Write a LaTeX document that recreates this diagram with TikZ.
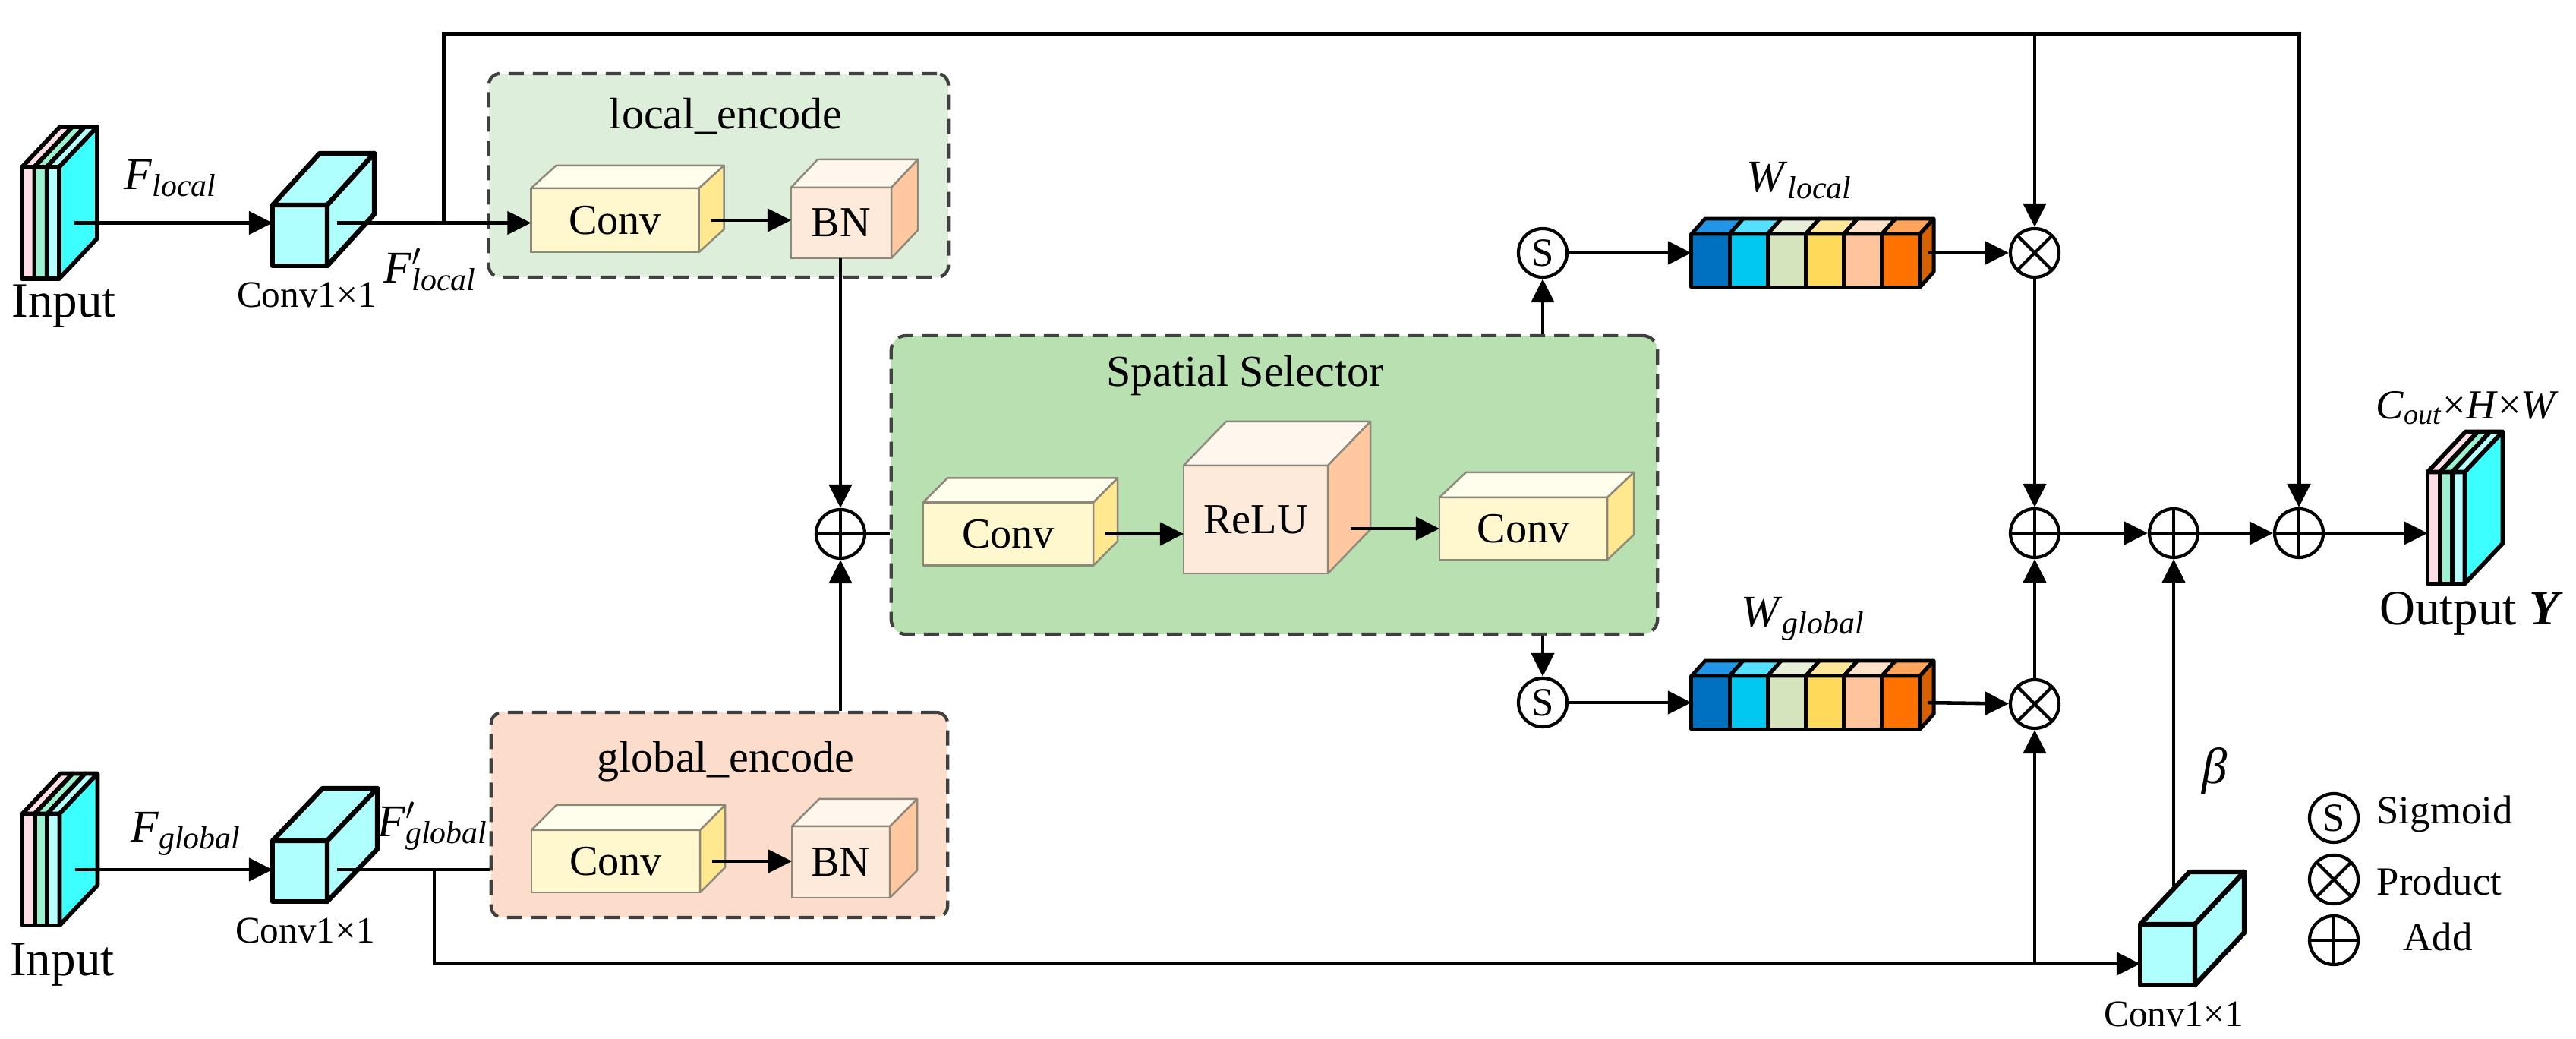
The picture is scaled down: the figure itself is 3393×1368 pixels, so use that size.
\documentclass[tikz,border=0pt]{standalone}
\usepackage{fontspec}
\setmainfont{Liberation Serif}
\usetikzlibrary{arrows.meta,calc}

\definecolor{lgreen}{HTML}{DDEEDA}
\definecolor{lpeach}{HTML}{FCDCCB}
\definecolor{sgreen}{HTML}{B8E0B1}
\definecolor{cfront}{HTML}{FFF8CE}
\definecolor{ctop}{HTML}{FFFDEC}
\definecolor{cside}{HTML}{FFE890}
\definecolor{bfront}{HTML}{FDEADB}
\definecolor{btop}{HTML}{FFF6EE}
\definecolor{bside}{HTML}{FFC8A0}
\definecolor{kcyan}{HTML}{B0FFFF}
\definecolor{mcyan}{HTML}{3CFFFF}
\definecolor{mpink}{HTML}{FFDDE5}
\definecolor{mmint}{HTML}{9AF2D0}
\definecolor{mlcyan}{HTML}{B6FFFF}
\definecolor{boxedge}{HTML}{8C887A}
\definecolor{dashgray}{HTML}{404040}
\definecolor{wa}{HTML}{0070C0}\definecolor{wat}{HTML}{2196E8}
\definecolor{wb}{HTML}{00C8F0}\definecolor{wbt}{HTML}{55E0FF}
\definecolor{wc}{HTML}{D6E4BE}\definecolor{wct}{HTML}{E6EFD9}
\definecolor{wd}{HTML}{FFD95A}\definecolor{wdt}{HTML}{FFE79A}
\definecolor{we}{HTML}{FFC49B}\definecolor{wet}{HTML}{FFE0C8}
\definecolor{wf}{HTML}{FF7200}\definecolor{wft}{HTML}{FFA45A}
\definecolor{wside}{HTML}{D46000}

\tikzset{
  line/.style={line width=1.3pt},
  arr/.style={line width=1.3pt,-{Triangle[length=0.31cm,width=0.3cm]}},
  op/.style={circle,draw,line width=1.2pt,fill=white,minimum size=0.64cm,inner sep=0},
  addop/.style={op,path picture={\draw[line width=1.2pt] (path picture bounding box.north) -- (path picture bounding box.south) (path picture bounding box.west) -- (path picture bounding box.east);}},
  mulop/.style={op,path picture={\draw[line width=1.2pt] (path picture bounding box.north west) -- (path picture bounding box.south east) (path picture bounding box.south west) -- (path picture bounding box.north east);}},
  sigop/.style={op,font=\fontsize{15}{15}\selectfont},
  encbox/.style={draw=dashgray,dash pattern=on 0.2cm off 0.12cm,line width=1.2pt,rounded corners=0.15cm,inner sep=0},
  block/.style={draw=boxedge,line width=0.7pt,inner sep=0,outer sep=0,font=\fontsize{16}{18}\selectfont},
  kbox/.style={draw,line width=1.8pt,line join=round,fill=kcyan,inner sep=0,outer sep=0,minimum width=0.72cm,minimum height=0.8cm},
  big/.style={font=\fontsize{18.5}{20}\selectfont},
  title/.style={font=\fontsize{16.5}{18}\selectfont},
  small/.style={font=\fontsize{14}{16}\selectfont},
  sym/.style={font=\fontsize{17}{19}\selectfont},
  legend/.style={font=\fontsize{15}{17}\selectfont}
}

\newcommand{\boxfaces}[6]{%
  \filldraw[line join=round,#6,fill=#4] (#1.north west) -- ($(#1.north west)+(#2,-#3)$) -- ($(#1.north east)+(#2,-#3)$) -- (#1.north east) -- cycle;
  \filldraw[line join=round,#6,fill=#5] (#1.north east) -- ($(#1.north east)+(#2,-#3)$) -- ($(#1.south east)+(#2,-#3)$) -- (#1.south east) -- cycle;
}
\newcommand{\fmap}[2]{%
  \node[minimum width=0.49cm,minimum height=1.47cm,inner sep=0,outer sep=0] (#1) at (#2) {};
  \foreach \c [count=\i from 0] in {mpink,mmint,mlcyan}{
    \draw[line width=1.6pt,line join=round,fill=\c] ($(#1.north west)+(\i*16.33,0)$) rectangle ++(16.33,147);
    \draw[line width=1.6pt,line join=round,fill=\c] ($(#1.north west)+(\i*16.33,0)$) -- ++(50,-53) -- ++(16.33,0) -- ++(-50,53) -- cycle;
    \draw[line width=1.6pt,line join=round,fill=mcyan] ($(#1.north west)+(\i*16.33+16.33,0)$) -- ++(50,-53) -- ++(0,147) -- ++(-50,53) -- cycle;
  }
}
\newcommand{\wbar}[2]{%
  \node[minimum width=3.01cm,minimum height=0.7cm,inner sep=0,outer sep=0] (#1) at (#2) {};
  \foreach \f/\t [count=\i from 0] in {wa/wat,wb/wbt,wc/wct,wd/wdt,we/wet,wf/wft}{
    \draw[line width=1.4pt,line join=round,fill=\f] ($(#1.north west)+(\i*50.17,0)$) rectangle ++(50.17,70);
    \draw[line width=1.4pt,line join=round,fill=\t] ($(#1.north west)+(\i*50.17,0)$) -- ++(18,-20) -- ++(50.17,0) -- ++(-18,20) -- cycle;
  }
  \draw[line width=1.4pt,line join=round,fill=wside] (#1.north east) -- ++(18,-20) -- ++(0,70) -- ++(-18,20) -- cycle;
}

\begin{document}
\begin{tikzpicture}[x=0.01cm,y=-0.01cm]
\useasboundingbox (0,0) rectangle (3393,1368);

% dashed groups
\node[encbox,fill=lgreen,minimum width=6.05cm,minimum height=2.68cm] (lbox) at (946.5,231) {};
\node[encbox,fill=lpeach,minimum width=6.01cm,minimum height=2.70cm] (gbox) at (947.5,1073) {};
\node[encbox,fill=sgreen,minimum width=10.09cm,minimum height=3.93cm,rounded corners=0.2cm] (sbox) at (1678.5,638.5) {};
\node[title] (lboxt) at (956,153) {local\_encode};
\node[title] (gboxt) at (956,1003) {global\_encode};
\node[title] (sboxt) at (1640,495) {Spatial Selector};

% inputs and output
\fmap{in1}{53.5,293.5}
\fmap{in2}{54,1145}
\fmap{out}{3222,695}
\node[big] (in1l) at (84,403) {Input};
\node[big] (in2l) at (82,1270) {Input};
\node[big] (outl) at (3255,808) {Output \textbf{\textit{Y}}};
\node[font=\fontsize{15.5}{17}\selectfont] (outs) at (3250,537) {\textit{C}\textsubscript{\textit{out}}×\textit{H}×\textit{W}};

% 1x1 convolutions
\node[kbox] (c1) at (395,310) {};
\boxfaces{c1}{62}{68}{kcyan}{kcyan}{line width=1.8pt}
\node[kbox] (c2) at (395,1147) {};
\boxfaces{c2}{66}{69}{kcyan}{kcyan}{line width=1.8pt}
\node[kbox] (c3) at (2855,1257) {};
\boxfaces{c3}{65}{69}{kcyan}{kcyan}{line width=1.8pt}
\node[small] (c1l) at (404,388) {Conv1×1};
\node[small] (c2l) at (402,1225) {Conv1×1};
\node[small] (c3l) at (2863,1335) {Conv1×1};

% encoders
\node[block,fill=cfront,minimum width=2.21cm,minimum height=0.84cm] (lconv) at (810,290) {Conv};
\boxfaces{lconv}{33}{30}{ctop}{cside}{draw=boxedge,line width=0.7pt}
\node[block,fill=bfront,minimum width=1.32cm,minimum height=0.93cm] (lbn) at (1108,293.5) {BN};
\boxfaces{lbn}{35}{37}{btop}{bside}{draw=boxedge,line width=0.7pt}
\node[block,fill=cfront,minimum width=2.22cm,minimum height=0.82cm] (gconv) at (811,1134) {Conv};
\boxfaces{gconv}{33}{33}{ctop}{cside}{draw=boxedge,line width=0.7pt}
\node[block,fill=bfront,minimum width=1.29cm,minimum height=0.94cm] (gbn) at (1107.5,1135) {BN};
\boxfaces{gbn}{36}{36}{btop}{bside}{draw=boxedge,line width=0.7pt}

% spatial selector
\node[block,fill=cfront,minimum width=2.24cm,minimum height=0.83cm] (sconv1) at (1328,703) {Conv};
\boxfaces{sconv1}{32}{32}{ctop}{cside}{draw=boxedge,line width=0.7pt}
\node[block,fill=bfront,minimum width=1.90cm,minimum height=1.42cm] (relu) at (1654,684) {ReLU};
\boxfaces{relu}{56}{58}{btop}{bside}{draw=boxedge,line width=0.7pt}
\node[block,fill=cfront,minimum width=2.21cm,minimum height=0.82cm] (sconv2) at (2006.5,696) {Conv};
\boxfaces{sconv2}{35}{33}{ctop}{cside}{draw=boxedge,line width=0.7pt}

% weights
\wbar{wl}{2378.5,343}
\wbar{wg}{2378.5,925}
\node[sym] (wll) at (2370,238) {\textit{W}\textsubscript{\textit{local}}};
\node[sym] (wgl) at (2375,815) {\textit{W}\textsubscript{\textit{global}}};

% operators
\node[addop] (addl) at (1107,703) {};
\node[sigop] (sig1) at (2032,333) {S};
\node[sigop] (sig2) at (2032,925) {S};
\node[mulop] (mul1) at (2680,333) {};
\node[mulop] (mul2) at (2680,927) {};
\node[addop] (adda) at (2680,702) {};
\node[addop] (addb) at (2863,702) {};
\node[addop] (addc) at (3028,702) {};

% feature labels
\node[sym] (fl) at (225,235) {\textit{F}\textsubscript{\textit{local}}};
\node[sym] (fpl) at (567,355) {\textit{F}\rlap{$'$}\textsubscript{\textit{local}}};
\node[sym] (fg) at (245,1098) {\textit{F}\textsubscript{\textit{global}}};
\node[sym] (fpg) at (570,1088) {\textit{F}\rlap{$'$}\textsubscript{\textit{global}}};
\node[font=\fontsize{19}{21}\selectfont] (beta) at (2917,1015) {\textit{β}};

% connectors
\coordinate (j1) at (585,293.5);
\coordinate (t1) at (585,45);
\coordinate (j2) at (572,1145);
\coordinate (b1) at (572,1269);
\draw[arr,shorten <=0.2cm] (in1.east) -- (in1.east -| c1.west);
\draw[arr,shorten <=0.13cm] (in1.east -| c1.east) -- (in1.east -| lconv.west);
\draw[arr,line width=1.6pt] (j1) -- (t1) -| (addc);
\draw[arr] (t1 -| mul1) -- (mul1);
\draw[arr,shorten <=0.16cm] (lconv.east) -- (lconv.east -| lbn.west);
\draw[arr] (lbn.south -| addl) -- (addl);
\draw[arr,shorten <=0.2cm] (in2.east) -- (in2.east -| c2.west);
\draw[line,shorten <=0.13cm] (in2.east -| c2.east) -- (in2.east -| gbox.west);
\draw[arr] (j2) -- (b1) -- (b1 -| c3.west);
\draw[arr] (b1 -| mul2) -- (mul2);
\draw[arr,shorten <=0.16cm] (gconv.east) -- (gconv.east -| gbn.west);
\draw[arr] (gbox.north -| addl) -- (addl);
\draw[line] (addl) -- (addl -| sbox.west);
\draw[arr,shorten <=0.16cm] (sconv1.east) -- (sconv1.east -| relu.west);
\draw[arr,shorten <=0.3cm] (sconv2.west -| relu.east) -- (sconv2.west);
\draw[arr] (sbox.north -| sig1) -- (sig1);
\draw[arr] (sbox.south -| sig2) -- (sig2);
\draw[arr] (sig1) -- (sig1 -| wl.west);
\draw[arr,shorten <=0.1cm] (sig1 -| wl.east) -- (mul1);
\draw[arr] (sig2) -- (sig2 -| wg.west);
\draw[arr,shorten <=0.1cm] (sig2 -| wg.east) -- (mul2);
\draw[arr] (mul1) -- (adda);
\draw[arr] (mul2) -- (adda);
\draw[arr] (adda) -- (addb);
\draw[arr] (addb) -- (addc);
\draw[arr] (addc) -- (addc -| out.west);
\draw[arr,shorten <=0.5cm] (c3.north -| addb) -- (addb);

% legend
\node[sigop] (lg1) at (3074,1077) {S};
\node[mulop] (lg2) at (3074,1158) {};
\node[addop] (lg3) at (3074,1238) {};
\node[legend] (lg1t) at (3220,1072) {Sigmoid};
\node[legend] (lg2t) at (3213,1160) {Product};
\node[legend] (lg3t) at (3211,1233) {Add};
\end{tikzpicture}
\end{document}
